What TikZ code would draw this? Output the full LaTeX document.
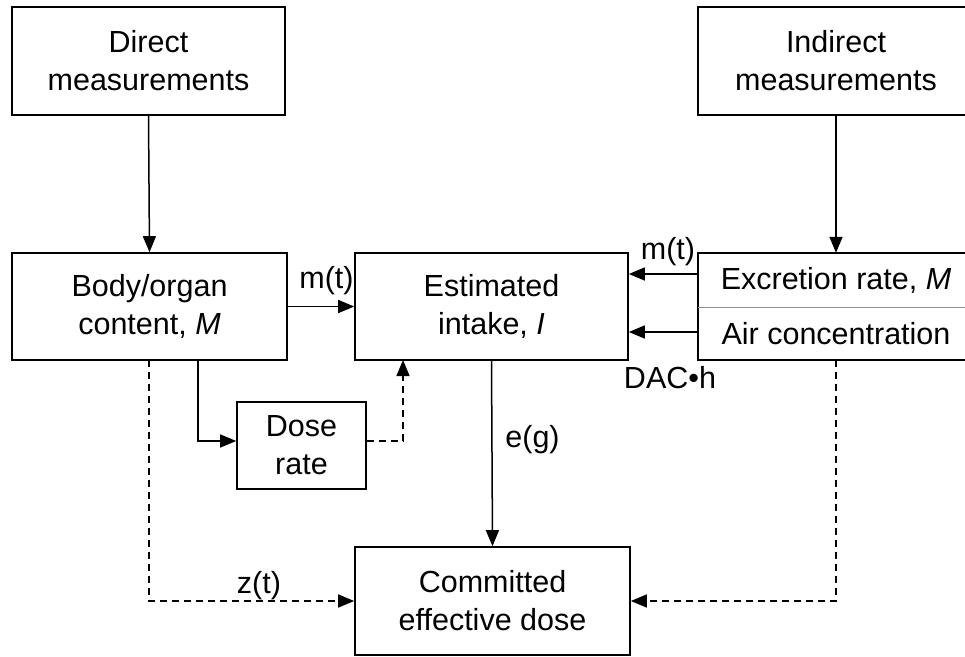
\documentclass[tikz,border=0pt]{standalone}
\usepackage{fontspec}
\setmainfont{Liberation Sans}[Ligatures=NoCommon]
\usetikzlibrary{arrows.meta,calc}
\begin{document}
\begin{tikzpicture}[x=1pt,y=1pt,
  every node/.style={font=\fontsize{30.5}{38}\selectfont, inner sep=0pt},
  box/.style={draw=black, line width=1.6pt, align=center},
  plain/.style={align=center},
  arr/.style={-{Triangle[length=16pt,width=13pt]}, line width=1.5pt},
  dsh/.style={arr, dash pattern=on 7pt off 5pt}
]
\useasboundingbox (0,0) rectangle (965,-656);
\clip (0,0) rectangle (965,-656);

\node[box, minimum width=273pt, minimum height=108pt] (direct) at (148.5,-61) {Direct\\measurements};
\node[box, minimum width=276pt, minimum height=108pt] (indirect) at (836,-61) {Indirect\\measurements};
\node[box, minimum width=275pt, minimum height=107pt] (body) at (149.5,-306.5) {Body/organ\\content, \textit{M}};
\node[box, minimum width=273pt, minimum height=107pt] (est) at (491.5,-306.5) {Estimated\\intake, \textit{I}};
\node[plain, minimum width=276pt, minimum height=54pt] (exc) at (836,-280) {Excretion rate, \textit{M}};
\node[plain, minimum width=276pt, minimum height=53pt] (air) at (836,-333.5) {Air concentration};
\draw[line width=1.6pt] (exc.north west) rectangle (air.south east);
\draw[line width=1.1pt, black!45] (exc.south west) -- (exc.south east);
\node[box, minimum width=129pt, minimum height=87pt] (dose) at (301.5,-445.5) {Dose\\rate};
\node[box, minimum width=275pt, minimum height=108pt] (ced) at (492.5,-601) {Committed\\effective dose};

% solid connectors
\draw[arr] (direct.south) -- (body.north);
\draw[arr] (indirect.south) -- (exc.north);
\draw[arr] (body.east) -- (est.west);
\coordinate (e1) at ([yshift=6pt]exc.west);
\draw[arr] (e1) -- (e1 -| est.east);
\coordinate (a1) at ([yshift=1.5pt]air.west);
\draw[arr] (a1) -- (a1 -| est.east);
\coordinate (b1) at (198,-360);
\coordinate (d1) at ([yshift=4.5pt]dose.west);
\draw[arr] (b1) |- (d1);
\draw[arr] (est.south) -- (ced.north);

% dashed connectors
\coordinate (d2) at ([yshift=4.5pt]dose.east);
\coordinate (d3) at (403,-360);
\draw[dsh] (d2) -| (d3);
\coordinate (b2) at (149,-360);
\draw[dsh] (b2) |- (ced.west);
\draw[dsh] (air.south) |- (ced.east);

% labels
\node[anchor=base] (lmt1) at (326.5,-288) {m(t)};
\node[anchor=base] (lmt2) at (668,-259) {m(t)};
\node[anchor=base] (ldac) at (670,-388) {DAC•h};
\node[anchor=base] (leg) at (532.5,-447) {e(g)};
\node[anchor=base] (lzt) at (259,-593) {z(t)};
\end{tikzpicture}
\end{document}
